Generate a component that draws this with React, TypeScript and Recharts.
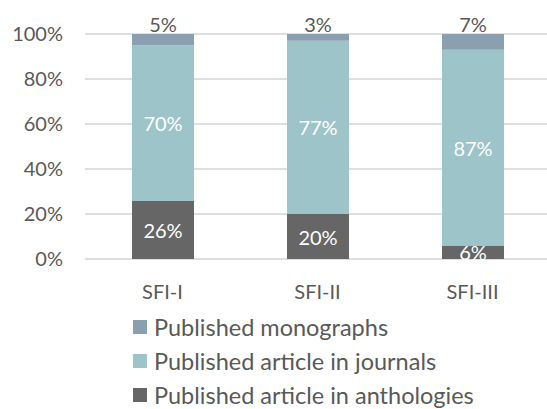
import React from "react";
import { BarChart, Bar, XAxis, YAxis, CartesianGrid, Legend, LabelList } from "recharts";

const categories = ["SFI-I", "SFI-II", "SFI-III"];
const anthologies = [26, 20, 6];
const journals = [70, 77, 87];
const monographs = [5, 3, 7];
const yTicks = [0, 0.2, 0.4, 0.6, 0.8, 1];

const seriesNames = {
  monographs: "Published monographs",
  journals: "Published article in journals",
  anthologies: "Published article in anthologies",
};
const colors = {
  monographs: "#8a9fb0",
  journals: "#9cc4c9",
  anthologies: "#666666",
};

const data = categories.map((c, i) => ({
  name: c,
  anthologies: anthologies[i],
  journals: journals[i],
  monographs: monographs[i],
}));

const FONT = "Lato, 'Open Sans', sans-serif";
const TEXT = "#595959";

const makeInside = (values: number[]) => (props: any) => {
  const { x, y, width, height, index } = props;
  return (
    <text
      x={Number(x) + Number(width) / 2}
      y={Number(y) + Number(height) / 2}
      textAnchor="middle"
      dominantBaseline="central"
      fill="#ffffff"
      fontSize={20}
      fontFamily={FONT}
    >
      {values[index]}%
    </text>
  );
};

const makeTop = (values: number[]) => (props: any) => {
  const { x, y, width, index } = props;
  return (
    <text
      x={Number(x) + Number(width) / 2}
      y={Number(y) - 2}
      textAnchor="middle"
      fill={TEXT}
      fontSize={20}
      fontFamily={FONT}
    >
      {values[index]}%
    </text>
  );
};

const legendOrder: (keyof typeof seriesNames)[] = ["monographs", "journals", "anthologies"];

const LegendContent = () => (
  <div style={{ height: 99, fontFamily: FONT, fontSize: 23.5, color: TEXT }}>
    {legendOrder.map((k) => (
      <div key={k} style={{ height: 34, display: "flex", alignItems: "center", whiteSpace: "nowrap" }}>
        <span
          style={{
            display: "inline-block",
            width: 14,
            height: 14,
            background: colors[k],
            marginRight: 7,
          }}
        />
        <span style={{ lineHeight: "23px" }}>{seriesNames[k]}</span>
      </div>
    ))}
  </div>
);

export default function App() {
  return (
    <div
      style={{
        position: "fixed",
        top: 0,
        left: 0,
        width: 547,
        height: 409,
        overflow: "hidden",
        background: "#fff",
      }}
    >
      <BarChart
        width={560}
        height={409}
        data={data}
        stackOffset="expand"
        margin={{ top: 34, right: 10, bottom: 0, left: 0 }}
        barSize={62}
      >
        <CartesianGrid vertical={false} stroke="#d4d4d4" strokeWidth={1.5} />
        <XAxis
          dataKey="name"
          axisLine={false}
          tickLine={false}
          tickSize={0}
          tickMargin={26}
          height={51}
          tick={{ fill: TEXT, fontSize: 20, fontFamily: FONT }}
        />
        <YAxis
          width={85}
          domain={[0, 1]}
          ticks={yTicks}
          axisLine={false}
          tickLine={false}
          tickSize={0}
          tickMargin={22}
          tickFormatter={(v: number) => `${Math.round(v * 100)}%`}
          tick={{ fill: TEXT, fontSize: 20, fontFamily: FONT }}
        />
        <Legend
          verticalAlign="bottom"
          align="left"
          layout="horizontal"
          content={() => <LegendContent />}
          wrapperStyle={{ left: 133, bottom: 0, width: "auto" }}
        />
        <Bar dataKey="anthologies" stackId="a" fill={colors.anthologies} isAnimationActive={false}>
          <LabelList dataKey="anthologies" content={makeInside(anthologies)} />
        </Bar>
        <Bar dataKey="journals" stackId="a" fill={colors.journals} isAnimationActive={false}>
          <LabelList dataKey="journals" content={makeInside(journals)} />
        </Bar>
        <Bar dataKey="monographs" stackId="a" fill={colors.monographs} isAnimationActive={false}>
          <LabelList dataKey="monographs" content={makeTop(monographs)} />
        </Bar>
      </BarChart>
    </div>
  );
}
